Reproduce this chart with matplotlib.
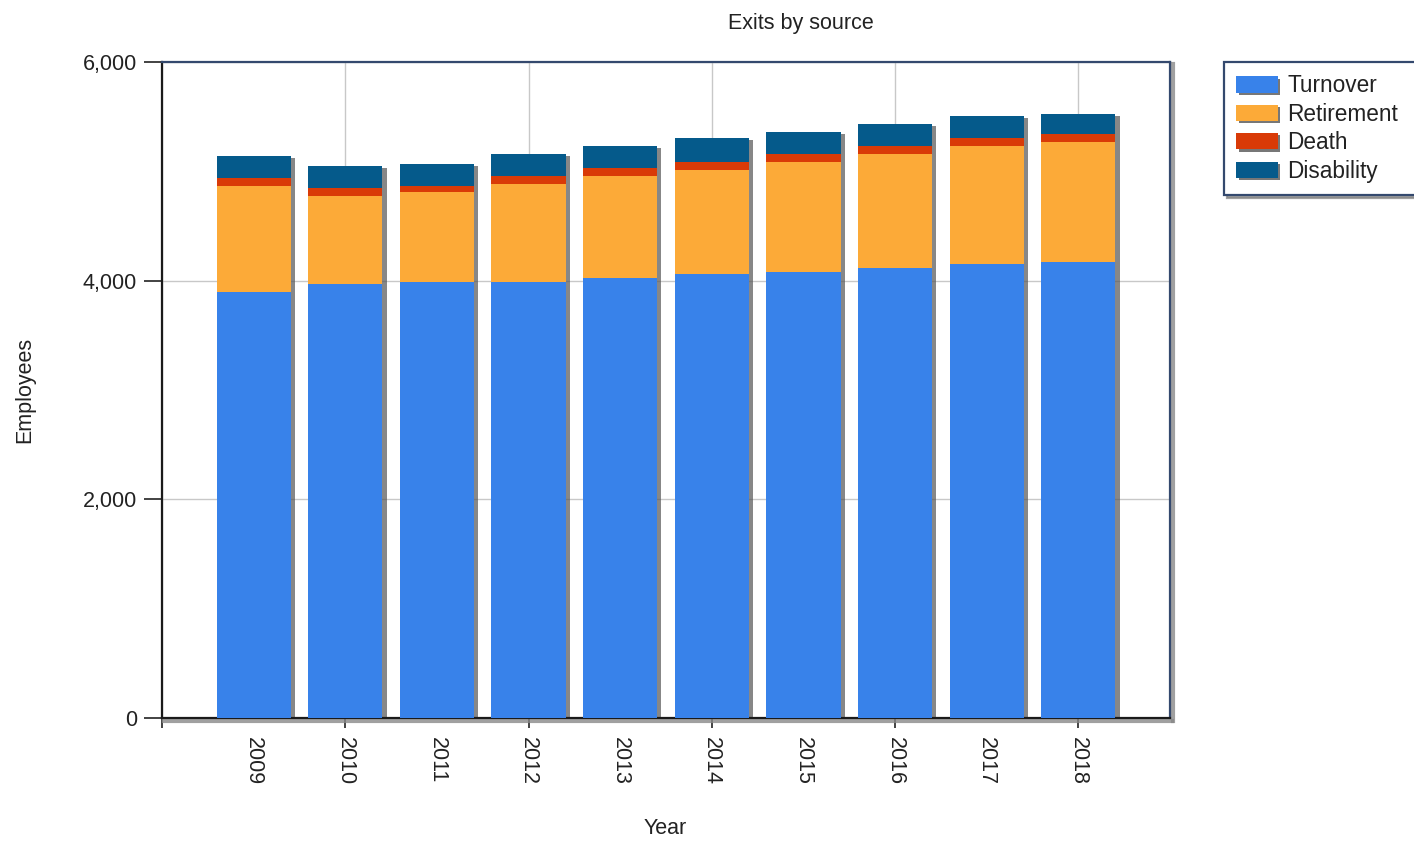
import matplotlib
matplotlib.use("Agg")
import matplotlib.pyplot as plt
import matplotlib.patheffects as pe
from matplotlib.ticker import FuncFormatter, FixedLocator
import numpy as np

years = [2009, 2010, 2011, 2012, 2013, 2014, 2015, 2016, 2017, 2018]
turnover = [3895, 3970, 3985, 3985, 4020, 4065, 4080, 4120, 4155, 4170]
retirement = [970, 805, 823, 900, 937, 947, 1005, 1040, 1076, 1098]
death = [70, 70, 58, 73, 71, 73, 73, 73, 74, 73]
disability = [205, 205, 200, 200, 206, 220, 202, 200, 204, 183]

series = [
    ("Turnover", turnover, "#3882ea"),
    ("Retirement", retirement, "#fcaa38"),
    ("Death", death, "#d93a07"),
    ("Disability", disability, "#055a8b"),
]

plt.rcParams['font.family'] = ['Liberation Sans', 'DejaVu Sans']
FS = 15.5

fig = plt.figure(figsize=(14.14, 8.42), dpi=100)
ax = fig.add_axes([162 / 1414, 1 - 718 / 842, 1008 / 1414, 656 / 842])

x = np.array(years)
width = 0.81

# drop shadow behind each full stack
totals = np.sum([s[1] for s in series], axis=0)
ax.bar(x, totals, width=width, color="none", zorder=2,
       path_effects=[pe.SimplePatchShadow(offset=(3, -1.5), shadow_rgbFace="#555555", alpha=0.7)])

bottom = np.zeros(len(years))
handles = []
for name, vals, col in series:
    b = ax.bar(x, vals, width=width, bottom=bottom, color=col, label=name, zorder=3, linewidth=0)
    handles.append(b)
    bottom += np.array(vals)

ax.set_xlim(2008, 2019)
ax.set_ylim(0, 6000)

# even years carry the tick marks and grid, every year carries a label
ax.xaxis.remove_overlapping_locs = False
ax.xaxis.set_major_locator(FixedLocator(range(2008, 2020, 2)))
ax.xaxis.set_minor_locator(FixedLocator(years))
ax.set_xticklabels([], minor=False)
ax.set_xticklabels([str(y) for y in years], minor=True, rotation=-90, fontsize=FS, color="#222222")
ax.tick_params(axis="x", which="major", length=7, width=1.2, direction="out", color="#222222")
ax.tick_params(axis="x", which="minor", length=0, pad=14)

ax.set_yticks([0, 2000, 4000, 6000])
ax.yaxis.set_major_formatter(FuncFormatter(lambda v, p: f"{int(v):,}"))
ax.tick_params(axis="y", length=13, width=1.2, pad=5, labelsize=FS, color="#222222", labelcolor="#222222")

ax.grid(True, which="major", color="#c8c8c8", linewidth=1.0, zorder=0)
ax.set_axisbelow(True)

for side in ("left", "bottom"):
    ax.spines[side].set_color("#1a1a1a")
    ax.spines[side].set_linewidth(1.6)
for side in ("top", "right"):
    ax.spines[side].set_color("#34496e")
    ax.spines[side].set_linewidth(1.6)
for side in ("right", "bottom"):
    ax.spines[side].set_path_effects([pe.SimpleLineShadow(offset=(1.8, -1.8), shadow_color="#888888", alpha=0.8, linewidth=3), pe.Normal()])

fig.text(801 / 1414, 1 - 23 / 842, "Exits by source", ha="center", va="center", fontsize=FS, color="#222222")
fig.text(25 / 1414, 1 - 390 / 842, "Employees", ha="center", va="center", rotation=90, fontsize=FS, color="#222222")
fig.text(665 / 1414, 1 - 829 / 842, "Year", ha="center", va="center", fontsize=FS, color="#222222")

# legend box runs off the right edge of the figure
leg = fig.legend(handles=handles, loc="upper left", mode="expand",
                 bbox_to_anchor=(1224 / 1414, 1 - 62 / 842, 230 / 1414, 0),
                 fontsize=16.3, frameon=True, fancybox=False, shadow={"color": "#888888", "alpha": 0.8},
                 handlelength=1.85, handleheight=0.72, handletextpad=0.4, labelspacing=0.24,
                 borderpad=0.55, borderaxespad=0, labelcolor="#222222")
leg.get_frame().set_edgecolor("#34496e")
leg.get_frame().set_linewidth(1.6)
for p in leg.get_patches():
    p.set_path_effects([pe.SimplePatchShadow(offset=(1.5, -1.5), shadow_rgbFace="#555555", alpha=0.8), pe.Normal()])

fig.savefig("out.png", dpi=100)
